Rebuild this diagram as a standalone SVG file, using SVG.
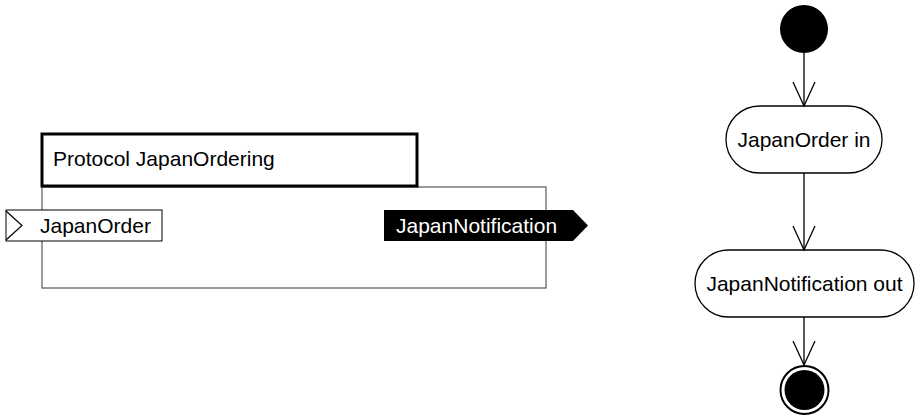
<svg xmlns="http://www.w3.org/2000/svg" width="916" height="418" viewBox="0 0 916 418">
<defs>
<style>
text{font-family:"Liberation Sans",Arial,sans-serif;font-size:21px;fill:#000}
.thin{fill:none;stroke:#000;stroke-width:1.3}
.conn{fill:none;stroke:#000;stroke-width:1.3}
</style>
<marker id="open" markerWidth="26" markerHeight="26" refX="24" refY="12" orient="auto" markerUnits="userSpaceOnUse">
<path d="M0,1 L24,12 L0,23" fill="none" stroke="#000" stroke-width="1.3"/>
</marker>
</defs>
<rect width="916" height="418" fill="#fff"/>
<g id="protocol-body">
<rect x="42" y="187" width="504" height="101" fill="#fff" stroke="#666" stroke-width="1.3"/>
</g>
<g id="protocol-title">
<rect x="42" y="134" width="375" height="52" fill="#fff" stroke="#000" stroke-width="3"/>
<text x="53" y="166">Protocol JapanOrdering</text>
</g>
<g id="port-JapanOrder">
<rect x="6" y="210" width="156" height="31" fill="#fff" stroke="#000" stroke-width="1"/>
<path d="M6,211 L22,225.5 L6,240" fill="none" stroke="#000" stroke-width="1.2"/>
<text x="40" y="233">JapanOrder</text>
</g>
<g id="port-JapanNotification">
<path d="M384,210 L573,210 L588,225.5 L573,241 L384,241 Z" fill="#000"/>
<text x="396" y="233" style="fill:#fff">JapanNotification</text>
</g>
<g id="initial">
<circle cx="804" cy="29" r="24" fill="#000"/>
</g>
<g id="action-JapanOrder-in">
<rect x="726" y="106" width="156" height="67" rx="33.5" ry="33.5" fill="#fff" stroke="#000" stroke-width="1.3"/>
<text x="804" y="147" text-anchor="middle">JapanOrder in</text>
</g>
<g id="action-JapanNotification-out">
<rect x="695" y="250" width="219" height="67" rx="33.5" ry="33.5" fill="#fff" stroke="#000" stroke-width="1.3"/>
<text x="804.5" y="291" text-anchor="middle">JapanNotification out</text>
</g>
<g id="final">
<circle cx="804.5" cy="390" r="24" fill="#fff" stroke="#000" stroke-width="2"/>
<circle cx="804.5" cy="390" r="20" fill="#000"/>
</g>
<g id="connectors">
<line class="conn" x1="804" y1="53" x2="804" y2="106" marker-end="url(#open)"/>
<line class="conn" x1="804" y1="173" x2="804" y2="250" marker-end="url(#open)"/>
<line class="conn" x1="804" y1="317" x2="804" y2="365" marker-end="url(#open)"/>
</g>
</svg>
